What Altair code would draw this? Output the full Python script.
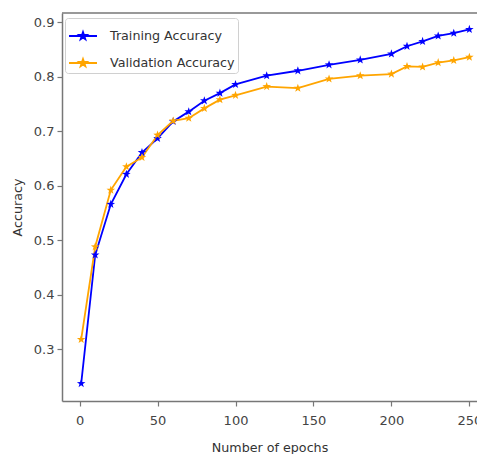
import altair as alt
import pandas as pd

epochs = [1, 10, 20, 30, 40, 50, 60, 70, 80, 90, 100, 120, 140, 160, 180, 200, 210, 220, 230, 240, 250]
train_acc = [0.237, 0.473, 0.566, 0.621, 0.661, 0.687, 0.718, 0.736, 0.756, 0.770, 0.786,
             0.802, 0.811, 0.822, 0.831, 0.842, 0.856, 0.865, 0.875, 0.880, 0.887]
val_acc = [0.318, 0.488, 0.592, 0.635, 0.652, 0.693, 0.719, 0.724, 0.742, 0.758, 0.766,
           0.782, 0.779, 0.796, 0.802, 0.805, 0.819, 0.818, 0.826, 0.830, 0.836]
series = ["Training Accuracy", "Validation Accuracy"]
colors = ["#0000ff", "#ffa500"]
x_ticks = [0, 50, 100, 150, 200, 250]
y_ticks = [0.3, 0.4, 0.5, 0.6, 0.7, 0.8, 0.9]

rows = []
for e, t, v in zip(epochs, train_acc, val_acc):
    rows.append({"epoch": e, "acc": t, "series": series[0]})
    rows.append({"epoch": e, "acc": v, "series": series[1]})
df = pd.DataFrame(rows)

STAR = ("M0,-1L0.235,-0.324L0.951,-0.309L0.38,0.124L0.588,0.809L0,0.4"
        "L-0.588,0.809L-0.38,0.124L-0.951,-0.309L-0.235,-0.324Z")
# legend symbol: a line spanning the whole unit box with a small star in its middle
k = 1 / 3.5
STAR_SMALL = ("M0,{a}L{b},{c}L{d},{e}L{f},{g}L{h},{i}L0,{j}L{mh},{i}L{mf},{g}L{md},{e}L{mb},{c}Z"
              .format(a=-1 * k, b=0.235 * k, c=-0.324 * k, d=0.951 * k, e=-0.309 * k,
                      f=0.38 * k, g=0.124 * k, h=0.588 * k, i=0.809 * k, j=0.4 * k,
                      mh=-0.588 * k, mf=-0.38 * k, md=-0.951 * k, mb=-0.235 * k))
LEGEND_SYM = "M-1,0L1,0" + STAR_SMALL

FONT = "DejaVu Sans"
X_DOMAIN = [-11.3, 254.9]
Y_DOMAIN = [0.205, 0.917]
W, H = 415, 388

x_scale = alt.Scale(domain=X_DOMAIN, nice=False, zero=False)
y_scale = alt.Scale(domain=Y_DOMAIN, nice=False, zero=False)

x_enc = alt.X("epoch:Q", title="Number of epochs", scale=x_scale,
              axis=alt.Axis(values=x_ticks, format="d"))
y_enc = alt.Y("acc:Q", title="Accuracy", scale=y_scale,
              axis=alt.Axis(values=y_ticks, format=".1f"))
color_scale = alt.Scale(domain=series, range=colors)

legend = alt.Legend(title=None, orient="none", legendX=3, legendY=5,
                    symbolType=LEGEND_SYM, symbolSize=784, symbolStrokeWidth=1.8,
                    labelFont=FONT, labelFontSize=12.7, labelColor="#333",
                    padding=3, strokeColor="#d0d0d0", fillColor="white",
                    cornerRadius=3, rowPadding=5, labelOffset=12)

lines = alt.Chart(df).mark_line(strokeWidth=1.8).encode(
    x=x_enc, y=y_enc,
    color=alt.Color("series:N", scale=color_scale, legend=legend),
    order="epoch:Q",
)
points = alt.Chart(df).mark_point(shape=STAR, filled=True, size=81, opacity=1).encode(
    x=x_enc, y=y_enc,
    color=alt.Color("series:N", scale=color_scale, legend=legend),
)
# top spine of the frame
top_frame = alt.Chart(pd.DataFrame({"k": [0]})).mark_rule(color="#777", strokeWidth=1.5).encode(
    x=alt.value(0), x2=alt.value(W), y=alt.value(0)
)

chart = alt.layer(lines, points, top_frame).properties(
    width=W, height=H,
    autosize=alt.AutoSizeParams(type="none"),
    padding={"left": 62, "top": 13, "right": 0, "bottom": 53},
).configure_view(
    stroke=None
).configure_axis(
    domainColor="#777", domainWidth=1.5, tickColor="#777", tickSize=5, tickWidth=1.2,
    grid=False, labelFont=FONT, labelFontSize=13, labelColor="#444",
    titleFont=FONT, titleFontSize=12.7, titleColor="#333", titleFontWeight="normal",
).configure_axisX(
    labelPadding=8, titlePadding=14,
).configure_axisY(
    labelPadding=3, titlePadding=9,
)

chart.save("out.html", embed_options={"renderer": "svg", "actions": False})
